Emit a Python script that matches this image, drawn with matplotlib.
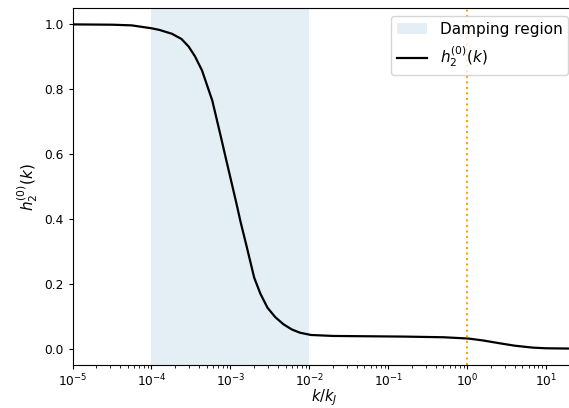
import matplotlib
matplotlib.use("Agg")
import matplotlib.pyplot as plt

k_vals = [1e-5, 3.2e-5, 5.6e-5, 1e-4, 1.26e-4, 1.82e-4, 2.4e-4, 2.95e-4, 3.55e-4, 4.37e-4,
          5.9e-4, 7.6e-4, 8.9e-4, 1.17e-3, 1.35e-3, 1.58e-3, 2.0e-3, 2.4e-3, 2.95e-3,
          3.7e-3, 4.7e-3, 6.0e-3, 7.6e-3, 1.05e-2, 2.0e-2, 0.16, 0.5, 1.04, 1.6, 2.5,
          4.0, 6.8, 10.0, 22.0]
h_vals = [1.0, 0.999, 0.997, 0.988, 0.983, 0.971, 0.955, 0.932, 0.902, 0.858,
          0.765, 0.652, 0.58, 0.457, 0.39, 0.323, 0.22, 0.17, 0.127,
          0.098, 0.076, 0.060, 0.050, 0.043, 0.040, 0.038, 0.036, 0.032, 0.026, 0.018,
          0.010, 0.004, 0.002, 0.001]
damp_lo, damp_hi = 1e-4, 1e-2
k_mark = 1.0

plt.rcParams['xtick.labelsize'] = 8.8
plt.rcParams['ytick.labelsize'] = 8.8
plt.rcParams['xtick.major.size'] = 3.1
plt.rcParams['ytick.major.size'] = 3.1
plt.rcParams['xtick.minor.size'] = 1.8
plt.rcParams['xtick.major.pad'] = 2.2
plt.rcParams['ytick.major.pad'] = 3.0

fig = plt.figure(figsize=(5.69, 4.08), dpi=100)
ax = fig.add_axes([0.1275, 0.105, 0.885, 0.875])
ax.axvspan(damp_lo, damp_hi, color='tab:blue', alpha=0.12, lw=0, label='Damping region')
ax.plot(k_vals, h_vals, color='black', lw=1.6, label=r'$h_2^{(0)}(k)$')
ax.axvline(k_mark, color='orange', ls=':', lw=1.5)
ax.set_xscale('log')
ax.set_xlim(1e-5, 24)
ax.set_ylim(-0.05, 1.05)
ax.set_xlabel(r'$k/k_J$', fontsize=10.5, labelpad=-1.2)
ax.set_ylabel(r'$h_2^{(0)}(k)$', fontsize=11, labelpad=3)
ax.legend(loc='upper right', fontsize=11)
fig.savefig('out.png', dpi=100)
